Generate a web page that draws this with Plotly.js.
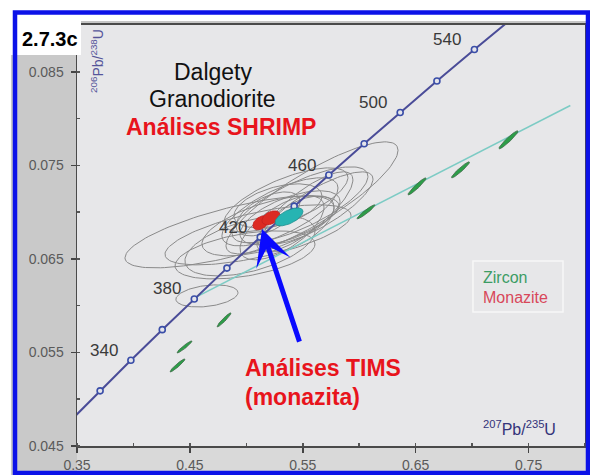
<!DOCTYPE html>
<html>
<head>
<meta charset="utf-8">
<script src="https://cdn.plot.ly/plotly-3.0.1.min.js"></script>
<style>
  html, body { margin: 0; padding: 0; background: #ffffff; }
  #chart { width: 590px; height: 475px; }
</style>
</head>
<body>
<div id="chart"></div>
<script>
// U-Pb concordia: 207Pb/235U and 206Pb/238U at each reference age (Ma)
const concordiaAge = [300, 320, 340, 360, 380, 400, 420, 440, 460, 480, 500, 520, 540, 560];
const concordiaX = [0.34374, 0.37047, 0.39773, 0.42553, 0.45389, 0.48281, 0.51231, 0.54239, 0.57308, 0.60437, 0.63628, 0.66883, 0.70203, 0.73588];
const concordiaY = [0.047637, 0.050893, 0.054158, 0.057434, 0.060719, 0.064015, 0.067322, 0.070638, 0.073965, 0.077302, 0.080650, 0.084008, 0.087376, 0.090755];
const labelledAges = [340, 380, 420, 460, 500, 540];

// SHRIMP spot analyses: centre, half-extent in x and y, error correlation
const shrimpX   = [0.4873, 0.5103, 0.5582, 0.5475, 0.5298, 0.5387, 0.5192, 0.5519, 0.5316, 0.5032, 0.4651, 0.5440, 0.5192, 0.4988, 0.5635, 0.5280, 0.5351];
const shrimpY   = [0.06789, 0.06757, 0.07152, 0.07078, 0.07003, 0.06939, 0.06853, 0.07003, 0.06832, 0.06639, 0.06104, 0.06874, 0.06981, 0.06543, 0.07045, 0.07067, 0.07131];
const shrimpSX  = [0.0948, 0.0824, 0.0762, 0.0602, 0.0514, 0.0443, 0.0585, 0.0425, 0.0372, 0.0576, 0.0275, 0.0337, 0.0283, 0.0620, 0.0487, 0.0390, 0.0549];
const shrimpSY  = [0.00385, 0.00321, 0.00599, 0.00406, 0.00364, 0.00289, 0.00321, 0.00428, 0.00342, 0.00321, 0.00118, 0.00299, 0.00235, 0.00257, 0.00385, 0.00235, 0.00342];
const shrimpRho = [0.72, 0.65, 0.85, 0.75, 0.70, 0.60, 0.60, 0.80, 0.65, 0.50, 0.30, 0.60, 0.55, 0.45, 0.80, 0.45, 0.70];

// Zircon TIMS fractions
const zirconX   = [0.7322, 0.6897, 0.6512, 0.6060, 0.4802, 0.4452, 0.4390];
const zirconY   = [0.07773, 0.07452, 0.07275, 0.07003, 0.05848, 0.05559, 0.05361];
const zirconSX  = [0.00841, 0.00797, 0.00797, 0.00797, 0.00620, 0.00664, 0.00664];
const zirconSY  = [0.000963, 0.000856, 0.000909, 0.000749, 0.000749, 0.000642, 0.000695];
const zirconRho = [0.95, 0.95, 0.95, 0.95, 0.95, 0.95, 0.95];

// Monazite TIMS fractions and mean
const monaziteX   = [0.5129, 0.5218];
const monaziteY   = [0.06886, 0.06939];
const monaziteSX  = [0.0071, 0.0080];
const monaziteSY  = [0.00075, 0.00075];
const monaziteRho = [0.40, 0.40];
const meanX = [0.5378], meanY = [0.06949], meanSX = [0.0124], meanSY = [0.00096], meanRho = [0.6];

// Discordia through the zircon fractions
const discordiaX = [0.452, 0.787];
const discordiaY = [0.0607, 0.0814];

const xTicks = [0.35, 0.45, 0.55, 0.65, 0.75];
const yTicks = [0.045, 0.055, 0.065, 0.075, 0.085];

// outline of an error ellipse from its half-extents and correlation
function ellipse(cx, cy, sx, sy, rho, n) {
  const xs = [], ys = [];
  const k = Math.sqrt(1 - rho * rho);
  for (let i = 0; i <= n; i++) {
    const t = 2 * Math.PI * i / n;
    xs.push(cx + sx * Math.cos(t));
    ys.push(cy + sy * (rho * Math.cos(t) + k * Math.sin(t)));
  }
  return { xs, ys };
}

const traces = [];

// SHRIMP ellipses, one trace with gaps
const gx = [], gy = [];
shrimpX.forEach((cx, i) => {
  const e = ellipse(cx, shrimpY[i], shrimpSX[i], shrimpSY[i], shrimpRho[i], 120);
  gx.push(...e.xs, null); gy.push(...e.ys, null);
});
traces.push({ x: gx, y: gy, type: 'scatter', mode: 'lines',
  line: { color: '#8a8a8a', width: 1 }, hoverinfo: 'skip' });

// discordia
traces.push({ x: discordiaX, y: discordiaY, type: 'scatter', mode: 'lines',
  line: { color: '#7ccbc4', width: 1.5 }, hoverinfo: 'skip' });

// concordia curve with age markers
traces.push({ x: concordiaX, y: concordiaY, type: 'scatter', mode: 'lines+markers',
  line: { color: '#4a4c98', width: 2 },
  marker: { symbol: 'circle', size: 6, color: '#e4e4ea', line: { color: '#3a4ea8', width: 1.6 } },
  hoverinfo: 'skip' });

// zircon fractions
zirconX.forEach((cx, i) => {
  const e = ellipse(cx, zirconY[i], zirconSX[i], zirconSY[i], zirconRho[i], 80);
  traces.push({ x: e.xs, y: e.ys, type: 'scatter', mode: 'lines', fill: 'toself',
    fillcolor: '#2c9e48', line: { color: '#3f6a48', width: 0.8 }, hoverinfo: 'skip' });
});

// monazite fractions
monaziteX.forEach((cx, i) => {
  const e = ellipse(cx, monaziteY[i], monaziteSX[i], monaziteSY[i], monaziteRho[i], 80);
  traces.push({ x: e.xs, y: e.ys, type: 'scatter', mode: 'lines', fill: 'toself',
    fillcolor: '#dc2a22', line: { color: '#c42020', width: 0.8 }, hoverinfo: 'skip' });
});
meanX.forEach((cx, i) => {
  const e = ellipse(cx, meanY[i], meanSX[i], meanSY[i], meanRho[i], 80);
  traces.push({ x: e.xs, y: e.ys, type: 'scatter', mode: 'lines', fill: 'toself',
    fillcolor: '#27b4b2', line: { color: '#1d8f8f', width: 0.8 }, hoverinfo: 'skip' });
});

const FONT = 'Liberation Sans, Arial, Helvetica, sans-serif';

const annotations = [];
labelledAges.forEach(a => {
  const i = concordiaAge.indexOf(a);
  annotations.push({ x: concordiaX[i], y: concordiaY[i], xref: 'x', yref: 'y',
    xanchor: 'center', yanchor: 'middle',
    text: String(a), showarrow: false, xshift: -27, yshift: 10,
    font: { family: FONT, size: 17, color: '#3a3a3a' } });
});

function paperText(x, y, text, size, color, xanchor) {
  return { xref: 'paper', yref: 'paper', x: x, y: y, text: text, showarrow: false,
    xanchor: xanchor || 'center', yanchor: 'middle',
    font: { family: FONT, size: size, color: color } };
}

annotations.push(
  paperText(0.2677, 0.8884, 'Dalgety', 23, '#111111'),
  paperText(0.2677, 0.8242, 'Granodiorite', 23, '#111111'),
  paperText(0.2835, 0.7577, '<b>Análises SHRIMP</b>', 23, '#e8141c'),
  paperText(0.3268, 0.1853, '<b>Análises TIMS</b>', 23, '#e8141c', 'left'),
  paperText(0.3268, 0.1164, '<b>(monazita)</b>', 23, '#e8141c', 'left'),
  // arrow pointing to the TIMS monazite
  { x: 0.5139, y: 0.0682, xref: 'x', yref: 'y', ax: 0.5475, ay: 0.0560, axref: 'x', ayref: 'y',
    text: '', showarrow: true, arrowhead: 3, arrowsize: 1.2, arrowwidth: 5, arrowcolor: '#0a0aff' },
  // axis titles
  { xref: 'paper', yref: 'paper', x: 0.039, y: 0.995, xanchor: 'center', yanchor: 'top', textangle: -90,
    text: '<sup>206</sup>Pb/<sup>238</sup>U', showarrow: false,
    font: { family: FONT, size: 14, color: '#55559a' } },
  { xref: 'paper', yref: 'paper', x: 0.947, y: 0.043, xanchor: 'right', yanchor: 'middle',
    text: '<sup>207</sup>Pb/<sup>235</sup>U', showarrow: false,
    font: { family: FONT, size: 16, color: '#34347a' } },
  // legend
  paperText(0.7953, 0.4014, 'Zircon', 16, '#3c9c64', 'left'),
  paperText(0.7953, 0.3539, 'Monazite', 16, '#d8475a', 'left'),
  // figure number
  paperText(-0.053, 0.967, '<b>2.7.3c</b>', 20, '#000000')
);

const shapes = [
  { type: 'rect', xref: 'paper', yref: 'paper', x0: -0.13, x1: 0, y0: -0.08, y1: 0.9287,
    fillcolor: '#c9c9c9', line: { width: 0 }, layer: 'below' },
  { type: 'rect', xref: 'paper', yref: 'paper', x0: 0, x1: 1.02, y0: -0.08, y1: 0,
    fillcolor: '#d9d9d9', line: { width: 0 }, layer: 'below' },
  { type: 'rect', xref: 'paper', yref: 'paper', x0: 0, x1: 1.02, y0: 1.0, y1: 1.0095,
    fillcolor: '#c6c6c6', line: { width: 0 }, layer: 'below' },
  { type: 'rect', xref: 'paper', yref: 'paper', x0: 0.7795, x1: 0.9567, y0: 0.3183, y1: 0.4394,
    fillcolor: 'rgba(0,0,0,0)', line: { color: '#f7f7f7', width: 1.5 }, layer: 'above' },
  { type: 'rect', xref: 'paper', yref: 'paper', x0: -0.1181, x1: 0.0079, y0: 0.9287, y1: 1.0238,
    fillcolor: '#ffffff', line: { width: 0 }, layer: 'above' },
  { type: 'rect', xref: 'paper', yref: 'paper', x0: -0.12205, x1: 1.00591, y0: -0.06413, y1: 1.02969,
    fillcolor: 'rgba(0,0,0,0)', line: { color: '#0c12e8', width: 4.5 }, layer: 'above' }
];

const layout = {
  width: 590, height: 475,
  margin: { l: 77, r: 5, t: 25, b: 29, pad: 0 },
  paper_bgcolor: '#ffffff',
  plot_bgcolor: '#e7e7e9',
  showlegend: false,
  hovermode: false,
  xaxis: {
    range: [0.35, 0.80], tickvals: xTicks, ticktext: xTicks.map(v => v.toFixed(2)),
    ticks: 'outside', ticklen: 5, tickwidth: 1.5, tickcolor: '#444',
    minor: { dtick: 0.05, tick0: 0.35, ticks: 'inside', ticklen: 3, tickcolor: '#555' },
    showgrid: false, zeroline: false,
    showline: true, linecolor: '#4a4a4a', linewidth: 2, mirror: true,
    tickfont: { family: FONT, size: 14, color: '#5a5a5a' }
  },
  yaxis: {
    range: [0.045, 0.090], tickvals: yTicks, ticktext: yTicks.map(v => v.toFixed(3)),
    ticks: 'outside', ticklen: 5, tickwidth: 1.5, tickcolor: '#444',
    minor: { dtick: 0.005, tick0: 0.045, ticks: 'inside', ticklen: 3, tickcolor: '#555' },
    showgrid: false, zeroline: false,
    showline: true, linecolor: '#4a4a4a', linewidth: 1.5, mirror: true,
    ticklabelstandoff: 4,
    tickfont: { family: FONT, size: 14, color: '#5a5a5a' }
  },
  annotations: annotations,
  shapes: shapes
};

Plotly.newPlot('chart', traces, layout, { displayModeBar: false, staticPlot: true });
</script>
</body>
</html>
